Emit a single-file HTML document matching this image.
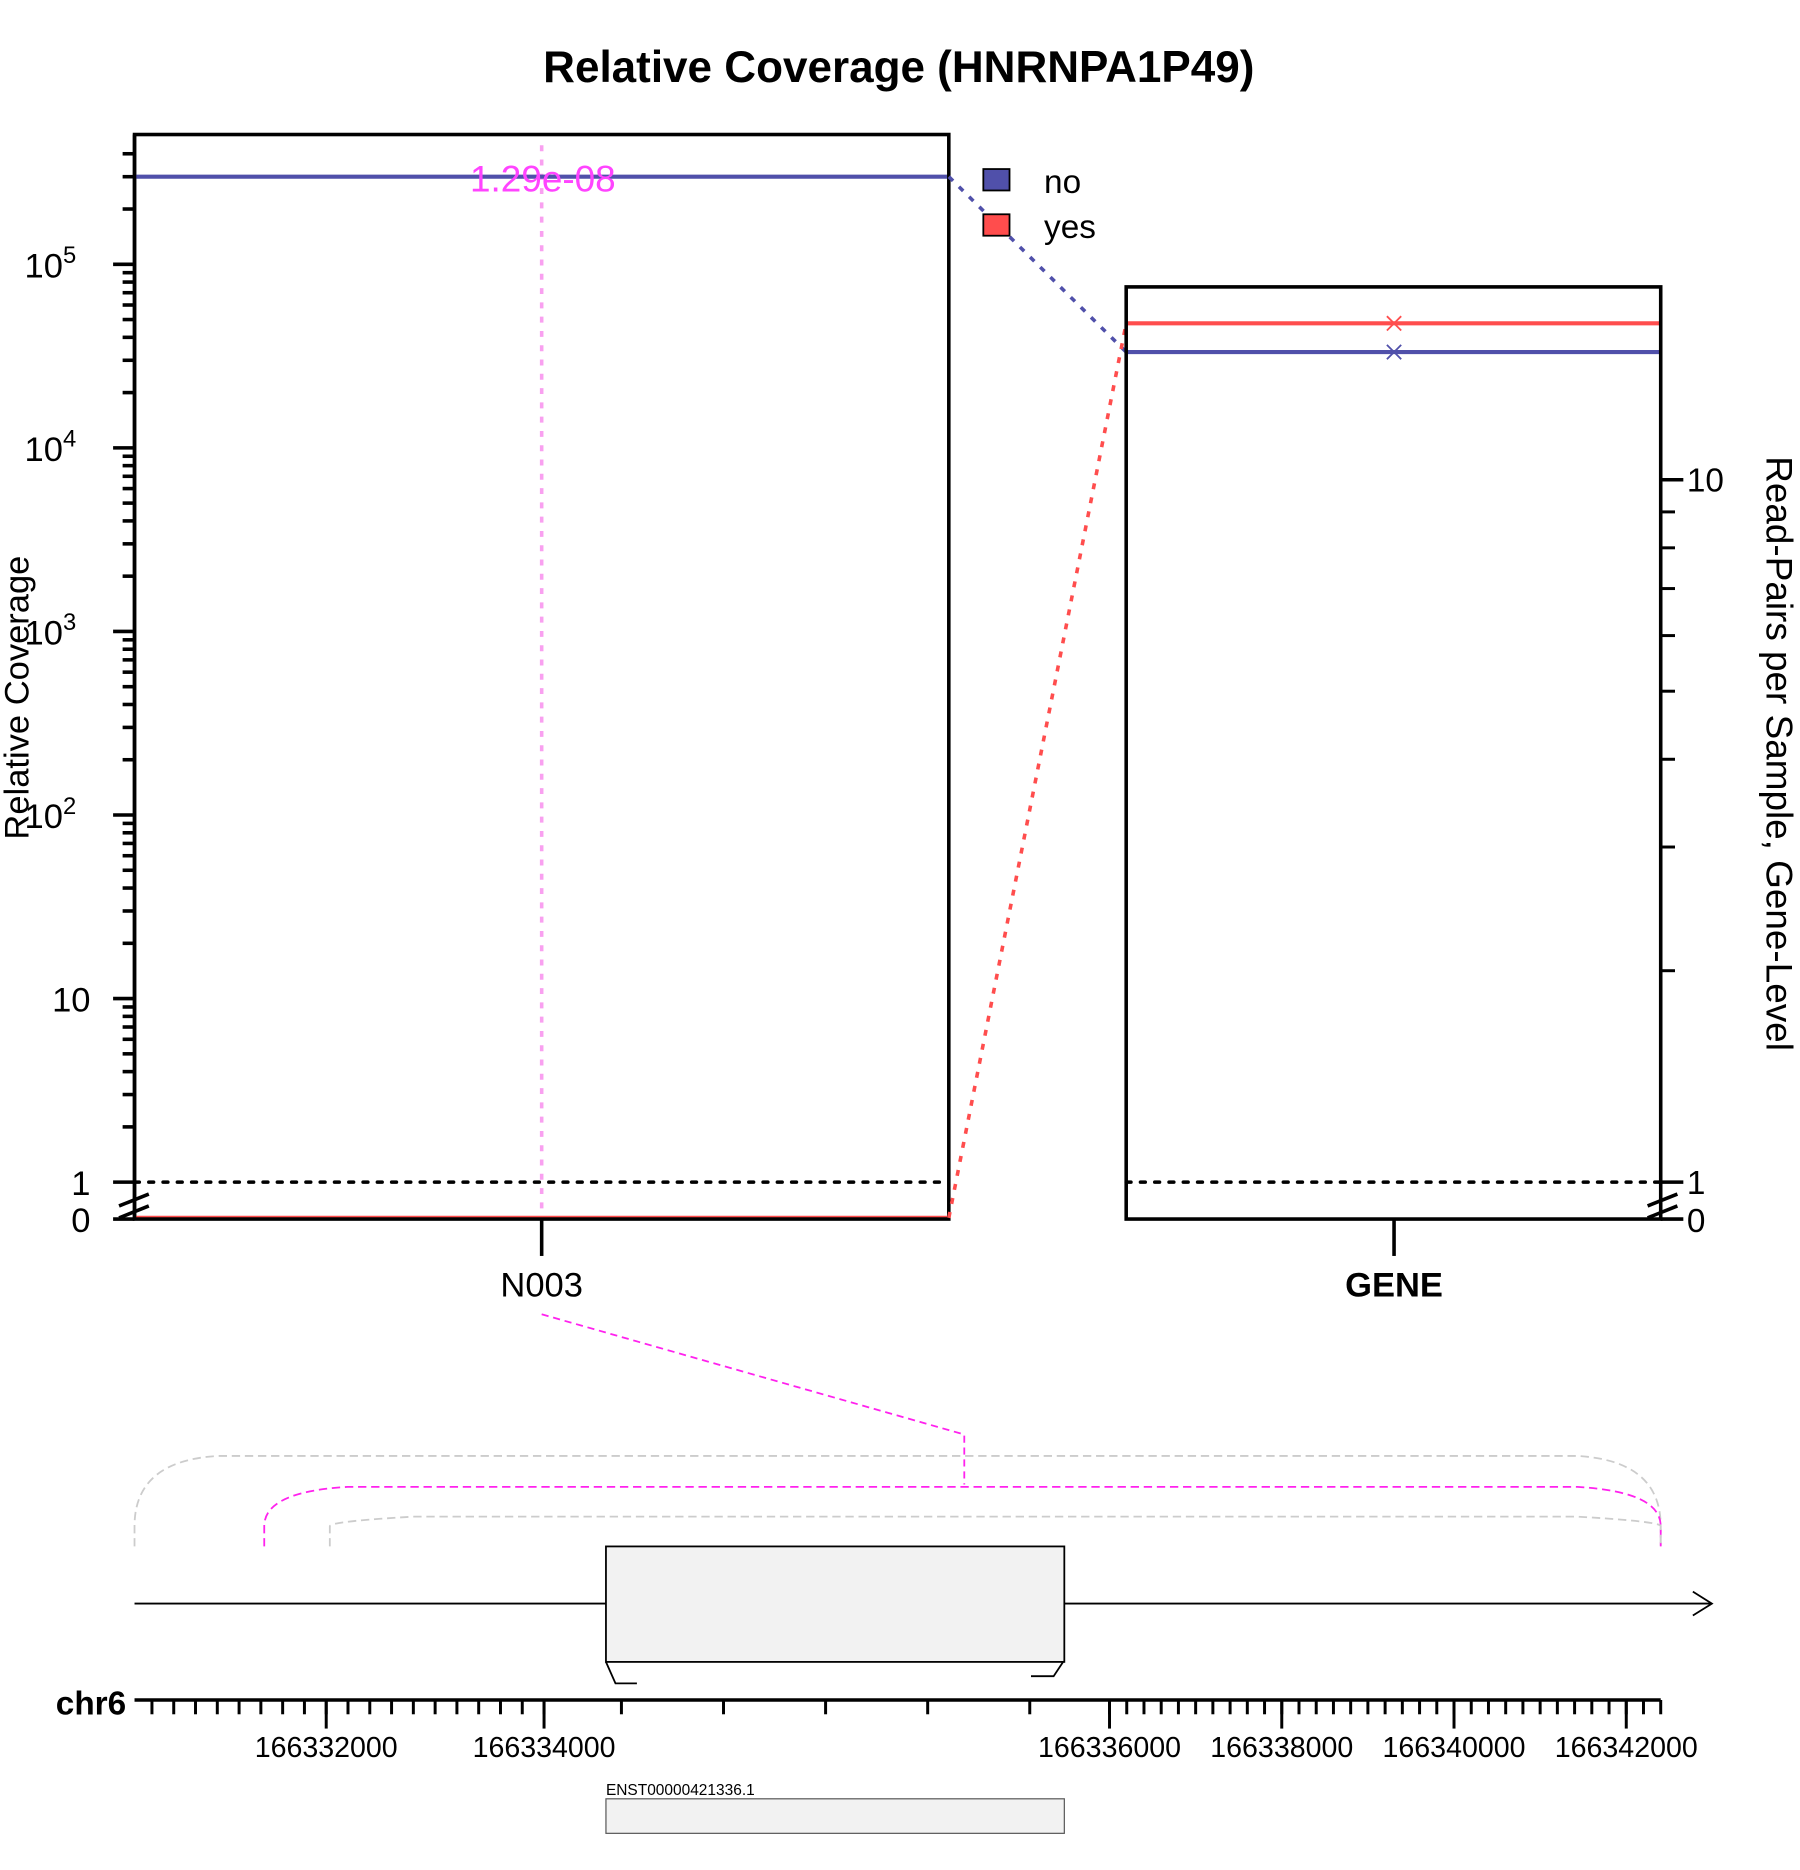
<!DOCTYPE html>
<html><head><meta charset="utf-8">
<style>html,body{margin:0;padding:0;background:#fff}svg{display:block}text{font-family:"Liberation Sans",sans-serif}</style>
</head><body>
<svg id="chart" width="1800" height="1870" viewBox="0 0 1512 1570.8" xmlns="http://www.w3.org/2000/svg">
<g id="root"></g>
</svg>
<script>
const groups = ["no", "yes"];
const groupColors = ["#5050aa", "#ff4d4d"];
const relCoverage = [300000, 0];
const geneLevel = [15.2, 16.7];
const leftTicks = [1, 10, 100, 1000, 10000, 100000];
const leftTickLabels = ["1", "10", "10^2", "10^3", "10^4", "10^5"];
const rightTicks = [1, 10];
const pvalueLabel = "1.29e-08";
const genomicTicksMajor = [166332000, 166334000, 166336000, 166338000, 166340000, 166342000];
const genomicKnotsBp = [166330240, 166334000, 166334300, 166335700, 166336000, 166342400];
const exonStart = 166334240, exonEnd = 166335830;
const junctions = [[166330240, 166342400, "#cccccc"], [166331431, 166342400, "#ff22ee"], [166332033, 166342400, "#cccccc"]];

const NS = "http://www.w3.org/2000/svg";
const root = document.getElementById('root');
function mk(tag, attrs, parent) {
  const e = document.createElementNS(NS, tag);
  for (const k in attrs) e.setAttribute(k, attrs[k]);
  (parent || root).appendChild(e);
  return e;
}
const L = {x0: 113, x1: 797, top: 113, bot: 1024, one: 993, dec: 154.2};
const R = {x0: 946, x1: 1395, top: 241, bot: 1024, one: 993, dec: 590};
function yL(v) { return v <= 0 ? L.bot - 1 : L.one - Math.log10(v) * L.dec; }
function yR(v) { return v <= 0 ? R.bot - 1 : R.one - Math.log10(v) * R.dec; }
const knotsX = [113, 457, 522, 865, 932, 1395];
function gx(bp) {
  for (let i = 0; i < genomicKnotsBp.length - 1; i++) {
    if (bp <= genomicKnotsBp[i + 1] || i === genomicKnotsBp.length - 2) {
      const t = (bp - genomicKnotsBp[i]) / (genomicKnotsBp[i + 1] - genomicKnotsBp[i]);
      return knotsX[i] + t * (knotsX[i + 1] - knotsX[i]);
    }
  }
}

let t = mk('text', {x: 755, y: 69, 'text-anchor': 'middle', 'font-size': 37, 'font-weight': 'bold'});
t.textContent = "Relative Coverage (HNRNPA1P49)";



const lax = mk('g', {});


mk('line', {x1: 113, y1: 113, x2: 113, y2: 1024, stroke: '#000', 'stroke-width': 3}, lax);
leftTicks.forEach((v, i) => {
  const y = yL(v);
  mk('line', {x1: 95, y1: y, x2: 113, y2: y, stroke: '#000', 'stroke-width': 3}, lax);
  const lab = leftTickLabels[i];
  const tx = mk('text', {x: 76, y: y + 11, 'text-anchor': 'end', 'font-size': 29}, lax);
  
  
  if (lab.indexOf('^') > 0) {
    const p = lab.split('^');
    tx.setAttribute('x', 64);
    tx.textContent = p[0];
    const s = mk('tspan', {dy: -12, 'font-size': 20}, tx);
    s.textContent = p[1];
  } else tx.textContent = lab;
  for (let m = 2; m <= 9; m++) {
    const yy = yL(v * m);
    if (yy < 125) break;
    mk('line', {x1: 103, y1: yy, x2: 113, y2: yy, stroke: '#000', 'stroke-width': 3}, lax);
  }
});
mk('line', {x1: 95, y1: 1024, x2: 113, y2: 1024, stroke: '#000', 'stroke-width': 3}, lax);
let z = mk('text', {x: 76, y: 1035, 'text-anchor': 'end', 'font-size': 29}, lax); z.textContent = "0";
mk('path', {d: 'M100 1013 L125 1003 M100 1023 L125 1013', stroke: '#000', 'stroke-width': 3, fill: 'none'}, lax);
t = mk('text', {transform: 'translate(24 586) rotate(-90)', 'text-anchor': 'middle', 'font-size': 29});
t.textContent = "Relative Coverage";



mk('line', {x1: 455, y1: 122, x2: 455, y2: 1024, stroke: '#f9a0f0', 'stroke-width': 3, 'stroke-dasharray': '5 7'});
mk('line', {x1: 113, y1: 993, x2: 797, y2: 993, stroke: '#000', 'stroke-width': 3, 'stroke-dasharray': '4 8', 'stroke-linecap': 'round'});
groups.forEach((g, i) => {
  const y = yL(relCoverage[i]);
  const ln = mk('line', {x1: 113, y1: y, x2: 797, y2: y, stroke: groupColors[i], 'stroke-width': 3.5});
  
  
});
t = mk('text', {x: 456, y: 161, 'text-anchor': 'middle', 'font-size': 31, fill: '#ff44ff'});
t.textContent = pvalueLabel;


mk('rect', {x: 113, y: 113, width: 684, height: 911, fill: 'none', stroke: '#000', 'stroke-width': 3});
mk('line', {x1: 455, y1: 1024, x2: 455, y2: 1055, stroke: '#000', 'stroke-width': 3});
t = mk('text', {x: 455, y: 1089, 'text-anchor': 'middle', 'font-size': 29});
t.textContent = "N003";



groups.forEach((g, i) => {
  const c = mk('line', {x1: 797, y1: yL(relCoverage[i]), x2: 946, y2: yR(geneLevel[i]), stroke: groupColors[i], 'stroke-width': 3, 'stroke-dasharray': '5 7'});
  
  
});

groups.forEach((g, i) => {
  const y = 142 + i * 38;
  const r = mk('rect', {x: 826, y: y, width: 22, height: 18, fill: groupColors[i], stroke: '#000', 'stroke-width': 1.5});
  
  
  const tx = mk('text', {x: 877, y: y + 20, 'font-size': 28});
  tx.textContent = g;
  
  
});

mk('line', {x1: 946, y1: 993, x2: 1395, y2: 993, stroke: '#000', 'stroke-width': 3, 'stroke-dasharray': '4 8', 'stroke-linecap': 'round'});
groups.forEach((g, i) => {
  const y = yR(geneLevel[i]);
  const ln = mk('line', {x1: 946, y1: y, x2: 1395, y2: y, stroke: groupColors[i], 'stroke-width': 3.5});
  
  
  mk('path', {d: `M${1165} ${y-6} L${1177} ${y+6} M${1165} ${y+6} L${1177} ${y-6}`, stroke: groupColors[i], 'stroke-width': 1.5});
});
mk('rect', {x: 946, y: 241, width: 449, height: 783, fill: 'none', stroke: '#000', 'stroke-width': 3});
mk('line', {x1: 1171, y1: 1024, x2: 1171, y2: 1055, stroke: '#000', 'stroke-width': 3});
t = mk('text', {x: 1171, y: 1089, 'text-anchor': 'middle', 'font-size': 29, 'font-weight': 'bold'});
t.textContent = "GENE";


const rax = mk('g', {});


rightTicks.forEach(v => {
  const y = yR(v);
  mk('line', {x1: 1395, y1: y, x2: 1414, y2: y, stroke: '#000', 'stroke-width': 3}, rax);
  const tx = mk('text', {x: 1417, y: y + 10, 'font-size': 28}, rax);
  tx.textContent = String(v);
});
for (let m = 2; m <= 9; m++) {
  const y = yR(m);
  mk('line', {x1: 1395, y1: y, x2: 1407, y2: y, stroke: '#000', 'stroke-width': 2.5}, rax);
}
mk('line', {x1: 1395, y1: 1024, x2: 1414, y2: 1024, stroke: '#000', 'stroke-width': 3}, rax);
z = mk('text', {x: 1417, y: 1035, 'font-size': 28}, rax); z.textContent = "0";
mk('path', {d: 'M1384 1013 L1409 1003 M1384 1023 L1409 1013', stroke: '#000', 'stroke-width': 3, fill: 'none'}, rax);
t = mk('text', {transform: 'translate(1484 633) rotate(90)', 'text-anchor': 'middle', 'font-size': 31});
t.textContent = "Read-Pairs per Sample, Gene-Level";



const gt = mk('g', {});


mk('path', {d: 'M455 1104 L810 1205 L810 1247', stroke: '#ff22ee', 'stroke-width': 1.5, fill: 'none', 'stroke-dasharray': '6 4'}, gt);
const tops = [1221, 1247, 1272];
junctions.forEach((j, i) => {
  const x0 = gx(j[0]), x1 = gx(j[1]), ty = tops[i];
  const p = mk('path', {d: `M${x0} 1299 L${x0} 1282 Q${x0} ${ty+6} ${x0+70} ${ty+2} L${x1-70} ${ty+2} Q${x1} ${ty+6} ${x1} 1282 L${x1} 1299`, stroke: j[2], 'stroke-width': 1.5, fill: 'none', 'stroke-dasharray': '7 4'}, gt);
  
  
});
mk('line', {x1: 113, y1: 1347, x2: 1438, y2: 1347, stroke: '#000', 'stroke-width': 1.5}, gt);
mk('path', {d: 'M1422 1337 L1438 1347 L1422 1357', stroke: '#000', 'stroke-width': 1.5, fill: 'none'}, gt);
const ex0 = gx(exonStart), ex1 = gx(exonEnd);
const ex = mk('rect', {x: ex0, y: 1299, width: ex1 - ex0, height: 97, fill: '#f2f2f2', stroke: '#000', 'stroke-width': 1.5}, gt);


mk('path', {d: `M${ex0} 1396 L${ex0+8} 1414 L${ex0+26} 1414 M${ex1-1} 1396 L${ex1-9} 1408 L${ex1-28} 1408`, stroke: '#000', 'stroke-width': 1.5, fill: 'none'}, gt);
const gax = mk('g', {});


mk('line', {x1: 113, y1: 1428, x2: 1395, y2: 1428, stroke: '#000', 'stroke-width': 3}, gax);
const minorTicks = [];
for (let b = 166330400; b <= 166334000; b += 200) minorTicks.push(b);
for (let b = 166334300; b <= 166335700; b += 350) minorTicks.push(b);
for (let b = 166336000; b <= 166342400; b += 200) minorTicks.push(b);
minorTicks.forEach(b => {
  const x = gx(b);
  mk('line', {x1: x, y1: 1428, x2: x, y2: 1440, stroke: '#000', 'stroke-width': 2.5}, gax);
});
genomicTicksMajor.forEach(b => {
  const x = gx(b);
  mk('line', {x1: x, y1: 1428, x2: x, y2: 1452, stroke: '#000', 'stroke-width': 2.5}, gax);
  const tx = mk('text', {x: x, y: 1476, 'text-anchor': 'middle', 'font-size': 24}, gax);
  tx.textContent = String(b);
});
t = mk('text', {x: 106, y: 1440, 'text-anchor': 'end', 'font-size': 28, 'font-weight': 'bold'});
t.textContent = "chr6";


t = mk('text', {x: ex0, y: 1508, 'font-size': 13});
t.textContent = "ENST00000421336.1";


const tr = mk('rect', {x: ex0, y: 1511, width: ex1 - ex0, height: 29, fill: '#f2f2f2', stroke: '#555', 'stroke-width': 1});


</script>
</body></html>
